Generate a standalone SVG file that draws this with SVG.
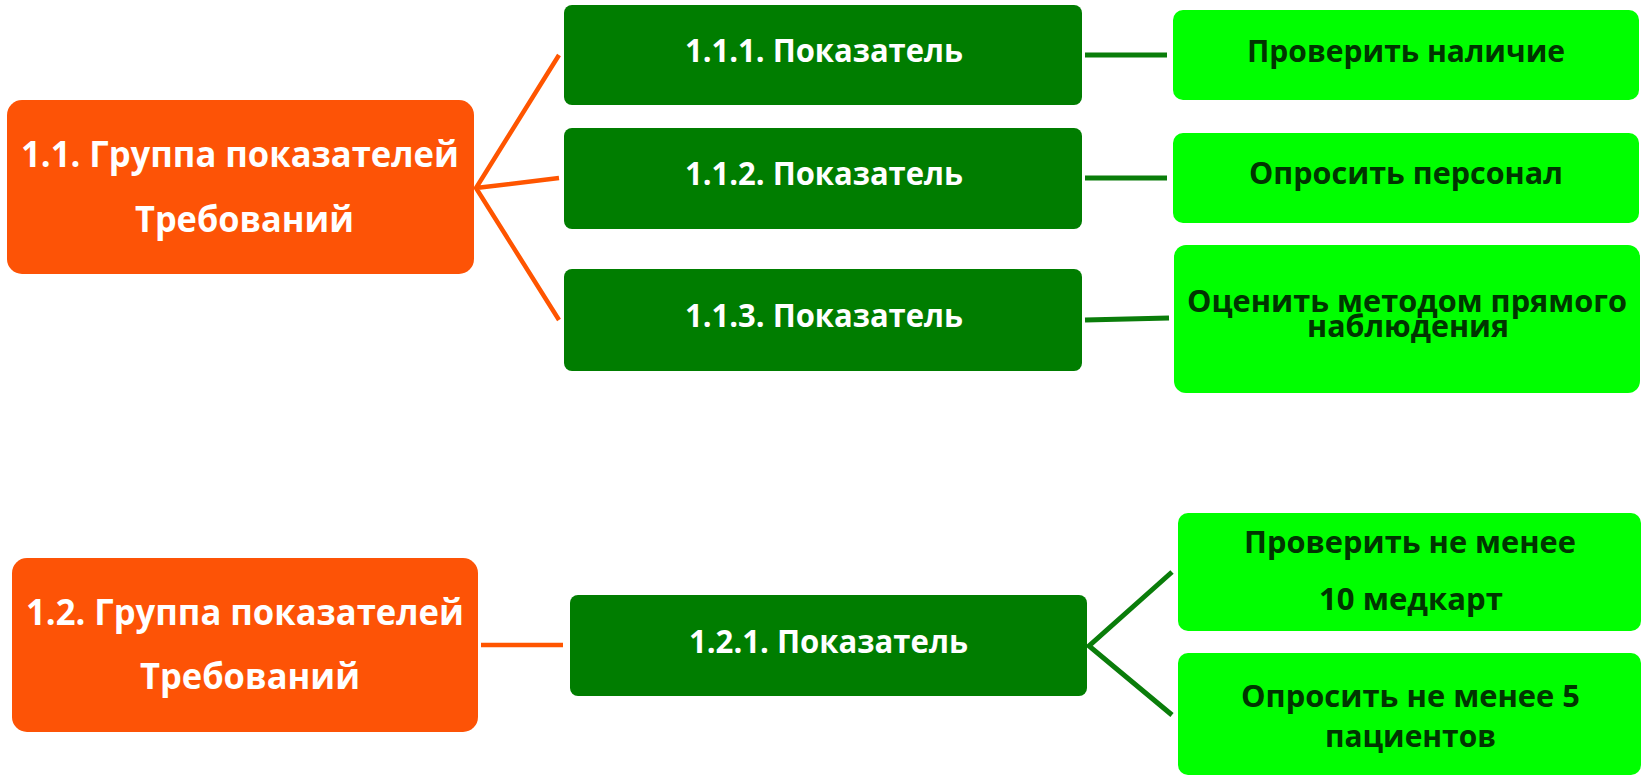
<svg xmlns="http://www.w3.org/2000/svg" width="1642" height="776" viewBox="0 0 1642 776">
  <style>
    .grp { fill: #FD5306; }
    .ind { fill: #007D00; }
    .chk { fill: #00FF00; }
    text { font-family: "Open Sans", "Noto Sans", "Liberation Sans", sans-serif; font-weight: 700; text-anchor: middle; }
    .tg { fill: #FFFFFF; font-size: 36px; }
    .ti { fill: #FFFFFF; font-size: 33px; }
    .tc { fill: #003500; font-size: 30px; }
    .lo { stroke: #FF5500; stroke-width: 4.5; fill: none; }
    .lg { stroke: #0A7D0A; stroke-width: 5; fill: none; }
  </style>
  <rect width="1642" height="776" fill="#FFFFFF"/>

  <!-- links between levels -->
  <g id="connectors">
    <path class="lo" d="M559,55 L476,188 L559,320 M476,188 L559,178"/>
    <path class="lg" d="M1085,55 L1167,55"/>
    <path class="lg" d="M1085,178 L1167,178"/>
    <path class="lg" d="M1085,320 L1169,318"/>
    <path class="lo" d="M481,645 L563,645"/>
    <path class="lg" d="M1172,572 L1089,646 L1172,715"/>
  </g>

  <!-- group 1.1 -->
  <g id="group-1-1">
    <rect class="grp" x="7" y="100" width="467" height="174" rx="15"/>
    <text class="tg" x="240" y="167" textLength="438" lengthAdjust="spacingAndGlyphs">1.1. Группа показателей</text>
    <text class="tg" x="244.5" y="232" textLength="219" lengthAdjust="spacingAndGlyphs">Требований</text>
  </g>

  <g id="ind-1-1-1">
    <rect class="ind" x="564" y="5" width="518" height="100" rx="8"/>
    <text class="ti" x="824" y="62" textLength="278" lengthAdjust="spacingAndGlyphs">1.1.1. Показатель</text>
  </g>
  <g id="ind-1-1-2">
    <rect class="ind" x="564" y="128" width="518" height="101" rx="8"/>
    <text class="ti" x="824" y="185" textLength="278" lengthAdjust="spacingAndGlyphs">1.1.2. Показатель</text>
  </g>
  <g id="ind-1-1-3">
    <rect class="ind" x="564" y="269" width="518" height="102" rx="8"/>
    <text class="ti" x="824" y="327" textLength="278" lengthAdjust="spacingAndGlyphs">1.1.3. Показатель</text>
  </g>

  <g id="chk-1-1-1">
    <rect class="chk" x="1173" y="10" width="466" height="90" rx="10"/>
    <text class="tc" x="1406" y="62" textLength="318" lengthAdjust="spacingAndGlyphs">Проверить наличие</text>
  </g>
  <g id="chk-1-1-2">
    <rect class="chk" x="1173" y="133" width="466" height="90" rx="10"/>
    <text class="tc" x="1406" y="184" textLength="314" lengthAdjust="spacingAndGlyphs">Опросить персонал</text>
  </g>
  <g id="chk-1-1-3">
    <rect class="chk" x="1174" y="245" width="466" height="148" rx="12"/>
    <text class="tc" x="1407" y="312" textLength="440" lengthAdjust="spacingAndGlyphs">Оценить методом прямого</text>
    <text class="tc" x="1408" y="337" textLength="202" lengthAdjust="spacingAndGlyphs">наблюдения</text>
  </g>

  <!-- group 1.2 -->
  <g id="group-1-2">
    <rect class="grp" x="12" y="558" width="466" height="174" rx="15"/>
    <text class="tg" x="245" y="625" textLength="438" lengthAdjust="spacingAndGlyphs">1.2. Группа показателей</text>
    <text class="tg" x="250" y="689" textLength="220" lengthAdjust="spacingAndGlyphs">Требований</text>
  </g>

  <g id="ind-1-2-1">
    <rect class="ind" x="570" y="595" width="517" height="101" rx="8"/>
    <text class="ti" x="828.5" y="653" textLength="279" lengthAdjust="spacingAndGlyphs">1.2.1. Показатель</text>
  </g>

  <g id="chk-1-2-1a">
    <rect class="chk" x="1178" y="513" width="463" height="118" rx="10"/>
    <text class="tc" x="1410" y="553" textLength="332" lengthAdjust="spacingAndGlyphs">Проверить не менее</text>
    <text class="tc" x="1411" y="610" textLength="184" lengthAdjust="spacingAndGlyphs">10 медкарт</text>
  </g>
  <g id="chk-1-2-1b">
    <rect class="chk" x="1178" y="653" width="463" height="122" rx="10"/>
    <text class="tc" x="1410.5" y="707" textLength="339" lengthAdjust="spacingAndGlyphs">Опросить не менее 5</text>
    <text class="tc" x="1410.5" y="747" textLength="171" lengthAdjust="spacingAndGlyphs">пациентов</text>
  </g>
</svg>
